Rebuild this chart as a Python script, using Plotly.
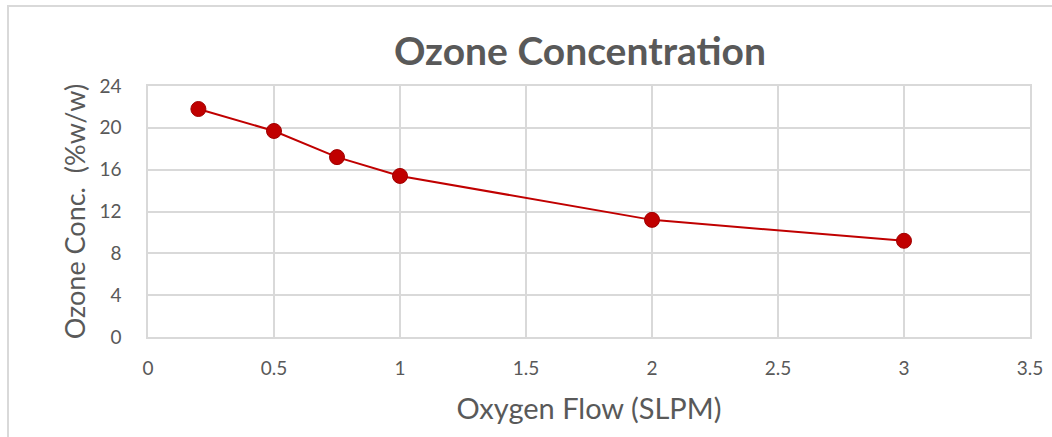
import plotly.graph_objects as go

oxygen_flow = [0.2, 0.5, 0.75, 1.0, 2.0, 3.0]
ozone_conc = [21.8, 19.7, 17.2, 15.4, 11.2, 9.2]
x_ticks = [0, 0.5, 1, 1.5, 2, 2.5, 3, 3.5]
x_tick_text = ["0", "0.5", "1", "1.5", "2", "2.5", "3", "3.5"]
y_ticks = [0, 4, 8, 12, 16, 20, 24]

W, H = 1052, 437
ml, mr, mt, mb = 148, 22, 86, 100
pw, ph = W - ml - mr, H - mt - mb

FONT = "Lato, 'Open Sans', sans-serif"
GRAY = "#595959"
RED = "#C00000"

fig = go.Figure()
fig.add_trace(go.Scatter(
    x=oxygen_flow, y=ozone_conc, mode="lines+markers",
    line=dict(color=RED, width=2),
    marker=dict(color=RED, size=15, line=dict(color="#A00000", width=1)),
    showlegend=False,
))

fig.update_layout(
    width=W, height=H,
    margin=dict(l=ml, r=mr, t=mt, b=mb, autoexpand=False),
    paper_bgcolor="white", plot_bgcolor="white",
    font=dict(family=FONT, color=GRAY),
    title=dict(text="<b>Ozone Concentration</b>", x=580 / W, xanchor="center",
               y=1 - 51 / H, yanchor="middle",
               font=dict(size=39, color=GRAY, family=FONT)),
    xaxis=dict(range=[0, 3.5], tickvals=x_ticks, ticktext=x_tick_text,
               showgrid=True, gridcolor="#D9D9D9", gridwidth=1.5,
               showline=True, linecolor="#D9D9D9", linewidth=1.5,
               mirror=True, zeroline=False, ticks="", automargin=False,
               ticklabelstandoff=13,
               tickfont=dict(size=19, color=GRAY),
               title=dict(text="Oxygen Flow (SLPM)", font=dict(size=29, color=GRAY), standoff=21)),
    yaxis=dict(range=[0, 24], tickvals=y_ticks,
               showgrid=True, gridcolor="#D9D9D9", gridwidth=1.5,
               showline=True, linecolor="#D9D9D9", linewidth=1.5,
               mirror=True, zeroline=False, ticks="", automargin=False,
               ticklabelstandoff=21,
               tickfont=dict(size=19, color=GRAY),
               title=dict(text="Ozone Conc.  (%w/w)", font=dict(size=27, color=GRAY), standoff=6)),
)

# outer chart border (cropped at right and bottom in the reference)
fig.add_shape(type="rect", xref="paper", yref="paper",
              x0=(8 - ml) / pw, x1=(W + 5 - ml) / pw,
              y0=-(mb + 5) / ph, y1=1 + (mt - 6) / ph,
              line=dict(color="#D9D9D9", width=2), fillcolor="rgba(0,0,0,0)", layer="below")

fig.write_html("out.html", config={"displayModeBar": False},
               post_script="document.body.style.margin='0';document.body.style.overflow='hidden';")
